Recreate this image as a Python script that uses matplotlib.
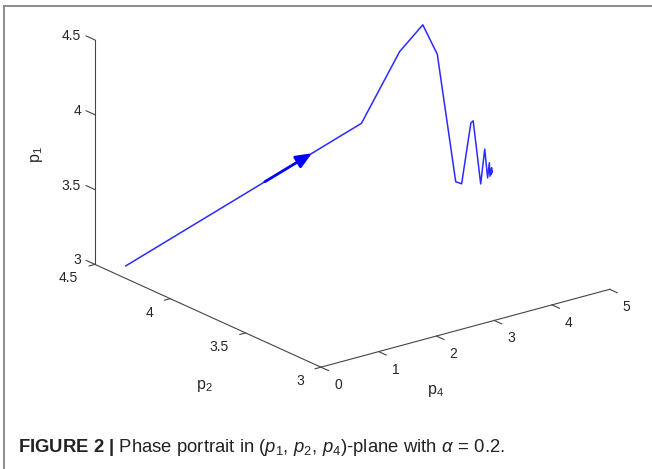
import numpy as np
import matplotlib
matplotlib.use('Agg')
import matplotlib.pyplot as plt
from mpl_toolkits.mplot3d import proj3d

plt.rcParams['font.family'] = ['Liberation Sans', 'DejaVu Sans']
plt.rcParams['mathtext.fontset'] = 'custom'
plt.rcParams['mathtext.rm'] = 'Liberation Sans'
plt.rcParams['mathtext.it'] = 'Liberation Sans:italic'
plt.rcParams['mathtext.bf'] = 'Liberation Sans:bold'

# trajectory (p4, p2, p1)
p4 = [0.30, 3.05, 3.32, 3.46, 3.45, 3.43, 3.48, 3.64, 3.68, 3.81,
      3.88, 3.93, 3.96, 3.97, 4.00, 3.99, 4.00, 4.00, 4.00]
p2 = [4.41, 3.90, 3.75, 3.65, 3.55, 3.42, 3.40, 3.40, 3.40, 3.40,
      3.40, 3.40, 3.40, 3.40, 3.40, 3.40, 3.40, 3.40, 3.40]
p1 = [3.00, 3.90, 4.42, 4.63, 4.48, 3.69, 3.68, 4.07, 4.08, 3.645,
      3.87, 3.673, 3.771, 3.68, 3.733, 3.689, 3.718, 3.698, 3.705]

p1_ticks = [3, 3.5, 4, 4.5]
p2_ticks = [3, 3.5, 4, 4.5]
p4_ticks = [0, 1, 2, 3, 4, 5]
p1_labels = ['3', '3.5', '4', '4.5']
p2_labels = ['3', '3.5', '4', '4.5']
p4_labels = ['0', '1', '2', '3', '4', '5']

W, H = 652, 469
fig = plt.figure(figsize=(W / 100, H / 100), dpi=100)
ax = fig.add_axes([0, 0, 1, 1], projection='3d', proj_type='ortho')
ax.view_init(elev=20.5, azim=-127.6)
ax.set_box_aspect((365, 371, 240))
ax.set_xlim(0, 5)
ax.set_ylim(3, 4.5)
ax.set_zlim(3, 4.5)
ax.set_axis_off()
ax.patch.set_alpha(0)

fig.canvas.draw()
M = ax.get_proj()


def proj2d(x, y, z):
    px, py, _ = proj3d.proj_transform(np.atleast_1d(x), np.atleast_1d(y),
                                      np.atleast_1d(z), M)
    return np.column_stack([px, py])


# place the axes box so the corners land where they are in the reference
anchors = [(0, 4.5, 3), (0, 3, 3), (5, 3, 3), (0, 4.5, 4.5)]
targets = [(95.7, 264.5), (319.0, 367.8), (610.0, 289.5), (95.7, 39.0)]
rows, rhs = [], []
for (x, y, z), (tx, ty) in zip(anchors, targets):
    u, v = ax.transAxes.inverted().transform(
        ax.transData.transform(proj2d(x, y, z)))[0]
    rows.append([1, 0, u]); rhs.append(tx)
    rows.append([0, 1, v]); rhs.append(H - ty)
L, B, S = np.linalg.lstsq(np.array(rows), np.array(rhs), rcond=None)[0]
ax.set_position([L / W, B / H, S / W, S / H])

axis_col = '#454545'
txt_col = '#262626'
tick_fs = 10

# axis lines
ax.plot([0, 5], [3, 3], [3, 3], color=axis_col, lw=0.8)
ax.plot([0, 0], [3, 4.5], [3, 3], color=axis_col, lw=0.8)
ax.plot([0, 0], [4.5, 4.5], [3, 4.5], color=axis_col, lw=0.8)

# ticks and tick labels
for v, s in zip(p4_ticks, p4_labels):
    ax.plot([v, v], [3, 2.95], [3, 3], color=axis_col, lw=0.8)
    ax.annotate(s, xy=proj2d(v, 3, 3)[0], xycoords='data', xytext=(17, -18),
                textcoords='offset pixels', ha='center', va='center',
                fontsize=tick_fs, color=txt_col, annotation_clip=False)
for v, s in zip(p2_ticks, p2_labels):
    ax.plot([0, -0.1], [v, v], [3, 3], color=axis_col, lw=0.8)
    ax.annotate(s, xy=proj2d(0, v, 3)[0], xycoords='data', xytext=(-17, -14),
                textcoords='offset pixels', ha='right', va='center',
                fontsize=tick_fs, color=txt_col, annotation_clip=False)
for v, s in zip(p1_ticks, p1_labels):
    ax.plot([0, 0], [4.5, 4.558], [v, v], color=axis_col, lw=0.8)
    ax.annotate(s, xy=proj2d(0, 4.5, v)[0], xycoords='data', xytext=(-14, 4),
                textcoords='offset pixels', ha='right', va='center',
                fontsize=tick_fs, color=txt_col, annotation_clip=False)

# trajectory
ax.plot(p4, p2, p1, color='#2b2bff', lw=1.1)

# direction arrow on the first segment
t0, t1 = 0.59, 0.79
a = np.array([p4[0], p2[0], p1[0]])
b = np.array([p4[1], p2[1], p1[1]])
tail = proj2d(*(a + t0 * (b - a)))[0]
tip = proj2d(*(a + t1 * (b - a)))[0]
ax.annotate('', xy=tip, xytext=tail, xycoords='data', textcoords='data',
            annotation_clip=False,
            arrowprops=dict(arrowstyle='-|>,head_length=0.95,head_width=0.4',
                            color='#0000ff', lw=2.0, shrinkA=0, shrinkB=0,
                            mutation_scale=10))

# axis labels
fig.text(37 / W, 1 - 155 / H, r'$\mathregular{p_1}$', rotation=90,
         ha='center', va='center', fontsize=11.5, color=txt_col)
fig.text(204 / W, 1 - 386 / H, r'$\mathregular{p_2}$',
         ha='center', va='center', fontsize=11.5, color=txt_col)
fig.text(435 / W, 1 - 391 / H, r'$\mathregular{p_4}$',
         ha='center', va='center', fontsize=11.5, color=txt_col)

# caption
fig.text(18 / W, 1 - 452 / H,
         r'$\mathbf{FIGURE\ 2\ |}$ Phase portrait in $(p_1,\,p_2,\,p_4)$-plane with $\alpha\,=\,0.2$.',
         ha='left', va='baseline', fontsize=13.3, color='#222222')

# frame around the figure panel
fig.add_artist(plt.Rectangle((4 / W, -0.1), 1.2, 1.1 - 6.5 / H,
                             transform=fig.transFigure, fill=False,
                             ec='#8c8c8c', lw=1.4))

fig.savefig('out.png', dpi=100)
